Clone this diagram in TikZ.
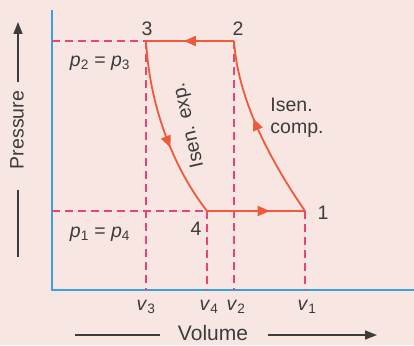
\documentclass[tikz,border=0pt]{standalone}
\usepackage{fontspec}
\setmainfont{Liberation Sans}
\usetikzlibrary{arrows.meta,decorations.markings}
\definecolor{bg}{RGB}{247,230,226}
\definecolor{axisblue}{RGB}{60,160,220}
\definecolor{dashpink}{RGB}{228,70,120}
\definecolor{cyc}{RGB}{240,90,60}
\definecolor{txt}{RGB}{60,60,60}
\begin{document}
\begin{tikzpicture}[x=1pt,y=-1pt,
  lbl/.style={text=txt,font=\fontsize{19.5}{22}\selectfont,inner sep=0pt},
  axisline/.style={axisblue,line width=1.6pt},
  guide/.style={dashpink,line width=1.6pt,dash pattern=on 8pt off 5pt},
  cycleline/.style={cyc,line width=1.8pt},
  txtline/.style={txt,line width=1.6pt},
  midarrow/.style={postaction={decorate},decoration={markings,mark=at position #1 with {\arrow{Triangle[length=12pt,width=10pt]}}}},
]
\fill[bg] (0,0) rectangle (414,345);
\useasboundingbox (0,0) rectangle (414,345);
% coordinates
\coordinate (O) at (52,290);
\coordinate (Ytop) at (52,10);
\coordinate (Xend) at (414,290);
\coordinate (P1) at (305,211);
\coordinate (P2) at (234,41);
\coordinate (P3) at (146,41);
\coordinate (P4) at (207,211);
\coordinate (Yhi) at (52,41);
\coordinate (Ylo) at (52,211);
\coordinate (V3) at (146,290);
\coordinate (V4) at (207,290);
\coordinate (V2) at (234,290);
\coordinate (V1) at (305,290);
% axes
\draw[axisline] (Ytop) -- (O) -- (Xend);
% guides
\draw[guide] (Yhi) -- (P3);
\draw[guide] (Ylo) -- (P4);
\draw[guide] (P3) -- (V3);
\draw[guide] (P4) -- (V4);
\draw[guide] (P2) -- (V2);
\draw[guide] (P1) -- (V1);
% cycle
\draw[cycleline,midarrow=0.57] (P2) -- (P3);
\draw[cycleline,midarrow=0.6] (P3) .. controls (150,110) and (175,170) .. (P4);
\draw[cycleline,midarrow=0.64] (P4) -- (P1);
\draw[cycleline,midarrow=0.57] (P1) .. controls (270,160) and (238,100) .. (P2);
% labels
\node[lbl] (n3) at (147,29) {3};
\node[lbl] (n2) at (238,29) {2};
\node[lbl] (n1) at (323,213) {1};
\node[lbl] (n4) at (196,229) {4};
\node[lbl] (phi) at (100,63) {\textit{p}\textsubscript{2} = \textit{p}\textsubscript{3}};
\node[lbl] (plo) at (100,234) {\textit{p}\textsubscript{1} = \textit{p}\textsubscript{4}};
\node[lbl] (lv3) at (146,307) {\textit{v}\textsubscript{3}};
\node[lbl] (lv4) at (209,307) {\textit{v}\textsubscript{4}};
\node[lbl] (lv2) at (236,307) {\textit{v}\textsubscript{2}};
\node[lbl] (lv1) at (307,307) {\textit{v}\textsubscript{1}};
\node[lbl,rotate=103] (iexp) at (189,125) {Isen. exp.};
\node[lbl,align=left] (icomp) at (297,118) {Isen.\\comp.};
% axis titles
\node[lbl,rotate=90] (pres) at (17,130) {Pressure};
\coordinate (pa0) at (18,82);
\coordinate (pa1) at (18,22);
\coordinate (pb0) at (18,190);
\coordinate (pb1) at (18,257);
\draw[txtline,-{Triangle[length=12pt,width=9pt]}] (pa0) -- (pa1);
\draw[txtline] (pb0) -- (pb1);
\node[lbl,font=\fontsize{21}{24}\selectfont] (vol) at (213,333) {Volume};
\coordinate (va0) at (75,335);
\coordinate (va1) at (160,335);
\coordinate (vb0) at (268,335);
\coordinate (vb1) at (377,335);
\draw[txtline] (va0) -- (va1);
\draw[txtline,-{Triangle[length=12pt,width=9pt]}] (vb0) -- (vb1);
\end{tikzpicture}
\end{document}
